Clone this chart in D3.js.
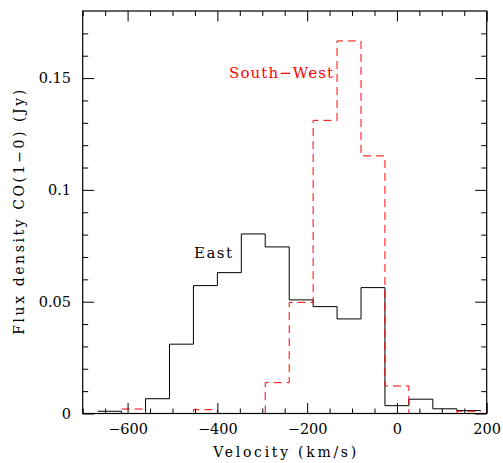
<!DOCTYPE html>
<html>
<head>
<meta charset="utf-8">
<script src="https://cdn.jsdelivr.net/npm/d3@7"></script>
<style>
    body { margin: 0; background: #fff; }
    svg { display: block; }
</style>
</head>
<body>
<div id="cospectrum-chart"></div>
<script>
// bin centres (km/s) and flux per bin (Jy)
const velocity = [-640, -586.7, -533.3, -480, -426.7, -373.3, -320, -266.7, -213.3, -160, -106.7, -53.3, 0, 53.3, 106.7, 160];
const binWidth = 53.33;
const eastFlux = [0.001, 0, 0.0066, 0.031, 0.0572, 0.063, 0.0803, 0.0745, 0.0508, 0.0478, 0.0423, 0.0563, 0.0035, 0.0064, 0.0021, 0.0013];
const southWestFlux = [null, 0.002, 0, 0, 0.0017, 0, 0, 0.0138, 0.0497, 0.1311, 0.1666, 0.1152, 0.0123, 0, 0, 0.001];
const xMajorTicks = [-600, -400, -200, 0, 200];
const yMajorTicks = [0, 0.05, 0.1, 0.15];
const xLabel = "Velocity (km/s)";
const yLabel = "Flux density CO(1\u22120) (Jy)";
const seriesNames = ["East", "South\u2212West"];

function cospectrum()
{
    var self = {};
    self.state = {};
    self.state.id = "cospectrum";
    self.state.width = 503;
    self.state.height = 463;

    const l_left = 82.7, l_right = 486.7, l_top = 11, l_bottom = 413.5,
          l_font = "'DejaVu Serif', serif",
          l_x = d3.scaleLinear().domain( [-700, 200] ).range( [l_left, l_right] ),
          l_y = d3.scaleLinear().domain( [0, 0.18] ).range( [l_bottom, l_top] ),
          l_xminor = d3.range( -700, 201, 50 ).filter( function( d ) { return xMajorTicks.indexOf( d ) < 0; } ),
          l_yminor = d3.range( 0, 18 ).map( function( d ) { return d / 100; } ).filter( function( d, i ) { return i % 5 !== 0; } ),
          l_svg = d3.select( "#" + self.state.id + "-chart" ).append( "svg" )
                      .attr( "width", self.state.width )
                      .attr( "height", self.state.height )
                      .style( "font-family", l_font );

    l_svg.append( "rect" ).attr( "width", self.state.width ).attr( "height", self.state.height ).attr( "fill", "#fff" );

    // step outline of a binned spectrum
    function steps( p_values ) {
        var l_pts = [];
        p_values.forEach( function( v, i ) {
            if ( v === null ) return;
            l_pts.push( [velocity[i] - binWidth / 2, v] );
        } );
        var l_last = p_values.length - 1;
        l_pts.push( [velocity[l_last] + binWidth / 2, p_values[l_last]] );
        return l_pts;
    }
    const l_line = d3.line()
                     .x( function( d ) { return l_x( d[0] ); } )
                     .y( function( d ) { return l_y( d[1] ); } )
                     .curve( d3.curveStepAfter );

    l_svg.append( "path" )
        .attr( "d", l_line( steps( eastFlux ) ) )
        .attr( "fill", "none" )
        .attr( "stroke", "#000" )
        .attr( "stroke-width", 1 );

    l_svg.append( "path" )
        .attr( "d", l_line( steps( southWestFlux ) ) )
        .attr( "fill", "none" )
        .attr( "stroke", "#ff0000" )
        .attr( "stroke-width", 1 )
        .attr( "stroke-dasharray", "8,5" );

    // frame
    l_svg.append( "rect" )
        .attr( "x", l_left ).attr( "y", l_top )
        .attr( "width", l_right - l_left ).attr( "height", l_bottom - l_top )
        .attr( "fill", "none" ).attr( "stroke", "#000" ).attr( "stroke-width", 1.2 );

    // ticks on all four sides, pointing in
    l_svg.append( "g" ).attr( "transform", "translate(0," + l_bottom + ")" )
        .call( d3.axisBottom( l_x ).tickValues( xMajorTicks ).tickSize( -10.5 ).tickPadding( 10.5 ).tickFormat( d3.format( "d" ) ) );
    l_svg.append( "g" ).attr( "transform", "translate(0," + l_bottom + ")" )
        .call( d3.axisBottom( l_x ).tickValues( l_xminor ).tickSize( -5 ).tickFormat( "" ) );
    l_svg.append( "g" ).attr( "transform", "translate(0," + l_top + ")" )
        .call( d3.axisTop( l_x ).tickValues( xMajorTicks ).tickSize( -10.5 ).tickFormat( "" ) );
    l_svg.append( "g" ).attr( "transform", "translate(0," + l_top + ")" )
        .call( d3.axisTop( l_x ).tickValues( l_xminor ).tickSize( -5 ).tickFormat( "" ) );
    l_svg.append( "g" ).attr( "transform", "translate(" + l_left + ",0)" )
        .call( d3.axisLeft( l_y ).tickValues( yMajorTicks ).tickSize( -11.5 ).tickPadding( 11.7 ).tickFormat( function( d ) { return String( d ); } ) );
    l_svg.append( "g" ).attr( "transform", "translate(" + l_left + ",0)" )
        .call( d3.axisLeft( l_y ).tickValues( l_yminor ).tickSize( -5.5 ).tickFormat( "" ) );
    l_svg.append( "g" ).attr( "transform", "translate(" + l_right + ",0)" )
        .call( d3.axisRight( l_y ).tickValues( yMajorTicks ).tickSize( -11.5 ).tickFormat( "" ) );
    l_svg.append( "g" ).attr( "transform", "translate(" + l_right + ",0)" )
        .call( d3.axisRight( l_y ).tickValues( l_yminor ).tickSize( -5.5 ).tickFormat( "" ) );

    l_svg.selectAll( ".domain" ).remove();
    l_svg.selectAll( ".tick line" ).attr( "stroke", "#000" ).attr( "stroke-width", 1 );
    l_svg.selectAll( ".tick text" ).attr( "fill", "#000" ).style( "font-family", l_font ).style( "font-size", "14.5px" );

    // axis titles
    l_svg.append( "text" )
        .attr( "x", ( l_left + l_right ) / 2 ).attr( "y", 456.7 )
        .attr( "text-anchor", "middle" )
        .attr( "textLength", 143 ).attr( "lengthAdjust", "spacing" )
        .style( "font-size", "14px" )
        .text( xLabel );
    l_svg.append( "text" )
        .attr( "transform", "translate(23.5," + ( l_top + l_bottom ) / 2 + ") rotate(-90)" )
        .attr( "text-anchor", "middle" )
        .attr( "textLength", 245 ).attr( "lengthAdjust", "spacing" )
        .style( "font-size", "14px" )
        .text( yLabel );

    // series labels
    l_svg.append( "text" )
        .attr( "x", 194 ).attr( "y", 257.5 )
        .attr( "textLength", 38 ).attr( "lengthAdjust", "spacing" )
        .style( "font-size", "15px" )
        .text( seriesNames[0] );
    l_svg.append( "text" )
        .attr( "x", 229 ).attr( "y", 78.3 )
        .attr( "fill", "#ff0000" )
        .attr( "textLength", 104 ).attr( "lengthAdjust", "spacing" )
        .style( "font-size", "15px" )
        .text( seriesNames[1] );
}

cospectrum();
</script>
</body>
</html>
